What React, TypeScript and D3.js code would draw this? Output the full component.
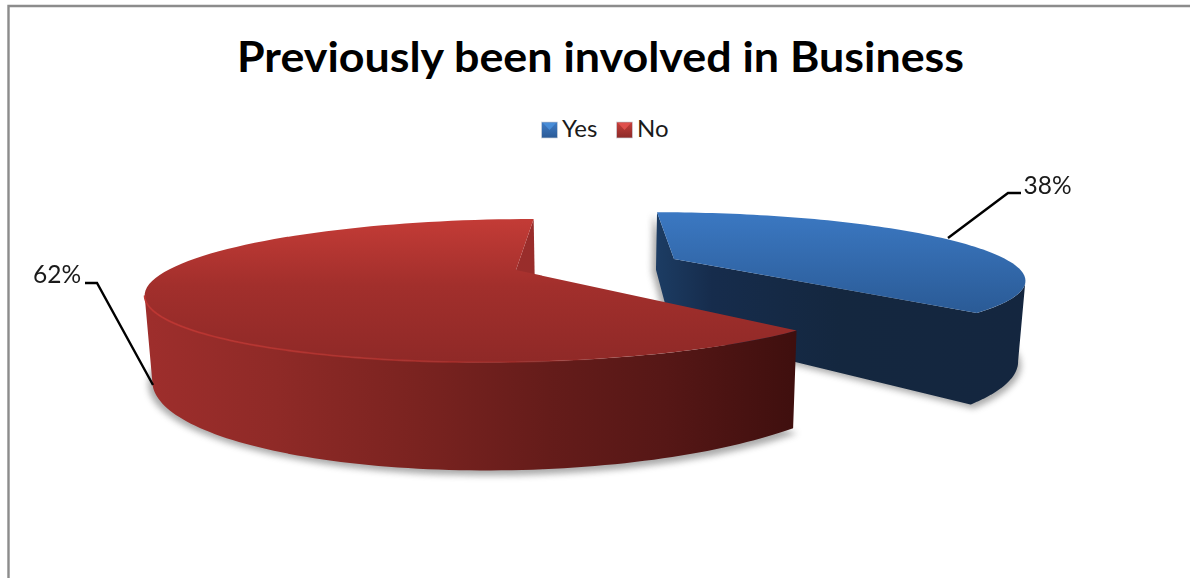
import React from "react";
import * as d3 from "d3";

// Slice values and labels
const categories = ["Yes", "No"];
const shares = [38, 62];
const shareLabels = ["38%", "62%"];
const titleText = "Previously been involved in Business";

const WIDTH = 1190;
const HEIGHT = 578;
const FONT = "Lato, 'Open Sans', sans-serif";

// Perspective camera for the tilted pie: ground units map to screen pixels
const VANISH_X = 595;
const VANISH_Y = 42;
const DEPTH_SCALE = 228;
const DEPTH_K = 0.288;
const WIDTH_SCALE = 348;
const DROP = 0.338; // thickness of the disc, relative to distance from the horizon
const NARROW = 0.983; // the lower rim pulls slightly in towards the middle

type Pt = [number, number];

function project(gx: number, gy: number, down: boolean): Pt {
  const w = 1 - DEPTH_K * gy;
  const x = (WIDTH_SCALE * gx) / w;
  const y = DEPTH_SCALE / w;
  return down
    ? [VANISH_X + x * NARROW, VANISH_Y + y * (1 + DROP)]
    : [VANISH_X + x, VANISH_Y + y];
}

// Ground position of each exploded slice's apex
const apexX = [0.2387, -0.227];
const apexY = [-0.178, 0];

const slices = d3
  .pie<number>()
  .sort(null)
  .value((d) => d)(shares);

const rimPoint = (i: number, angle: number, down: boolean): Pt =>
  project(apexX[i] + Math.sin(angle), apexY[i] - Math.cos(angle), down);
const apexPoint = (i: number, down: boolean): Pt => project(apexX[i], apexY[i], down);

function arcPoints(i: number, from: number, to: number, down: boolean): Pt[] {
  const steps = 90;
  return d3.range(steps + 1).map((k) => rimPoint(i, from + ((to - from) * k) / steps, down));
}

const polyline = d3.line<Pt>();
const closed = (pts: Pt[]) => (polyline(pts) as string) + "Z";

// Angle along a slice's rim where it reaches its widest point on screen
function silhouetteAngle(i: number, sign: number): number {
  const { startAngle, endAngle } = slices[i];
  const angles = d3.range(0, 361).map((k) => startAngle + ((endAngle - startAngle) * k) / 360);
  return d3.greatest(angles, (a) => sign * rimPoint(i, a, false)[0]) as number;
}

const topFace = (i: number) =>
  closed([apexPoint(i, false), ...arcPoints(i, slices[i].startAngle, slices[i].endAngle, false)]);
const bottomFace = (i: number) =>
  closed([apexPoint(i, true), ...arcPoints(i, slices[i].startAngle, slices[i].endAngle, true)]);
const radialWall = (i: number, angle: number) =>
  closed([apexPoint(i, false), rimPoint(i, angle, false), rimPoint(i, angle, true), apexPoint(i, true)]);
const curvedWall = (i: number, from: number, to: number) =>
  closed([...arcPoints(i, from, to, false), ...arcPoints(i, to, from, true)]);

const blueWidest = silhouetteAngle(0, 1);
const redWidest = silhouetteAngle(1, -1);

// Front rim highlight along the No slice
const frontRim = polyline(arcPoints(1, slices[1].startAngle + 0.15, redWidest, false)) as string;

function Key({ x, y, id, label, glow }: { x: number; y: number; id: string; label: string; glow: string }) {
  return (
    <g>
      <rect x={x} y={y} width={16} height={16} fill={`url(#${id}Key)`} stroke="#cfd5dc" strokeWidth={0.7} />
      <path d={`M${x + 1.5} ${y + 1}H${x + 14.5}L${x + 8} ${y + 8}Z`} fill={glow} opacity={0.85} />
      <text x={x + 20.5} y={y + 15} fontSize={24} fontFamily={FONT} fill="#1a1a1a">
        {label}
      </text>
    </g>
  );
}

export default function App() {
  const blueEnd = slices[0].endAngle;
  const redStart = slices[1].startAngle;
  const redEnd = slices[1].endAngle;
  return (
    <svg
      width={WIDTH}
      height={HEIGHT}
      viewBox={`0 0 ${WIDTH} ${HEIGHT}`}
      style={{ position: "fixed", left: 0, top: 0, background: "#fff" }}
    >
      <defs>
        <linearGradient id="blueTop" gradientUnits="userSpaceOnUse" x1={0} x2={0} y1={213} y2={315}>
          <stop offset="0" stopColor="#3b78c2" />
          <stop offset="1" stopColor="#2a5a95" />
        </linearGradient>
        <linearGradient id="redTop" gradientUnits="userSpaceOnUse" x1={0} x2={0} y1={221} y2={363}>
          <stop offset="0" stopColor="#c23b36" />
          <stop offset="0.45" stopColor="#a22f2c" />
          <stop offset="1" stopColor="#8f2927" />
        </linearGradient>
        <linearGradient id="redSide" gradientUnits="userSpaceOnUse" x1={145} x2={795} y1={0} y2={0}>
          <stop offset="0" stopColor="#9e2e2c" />
          <stop offset="0.2" stopColor="#8f2a27" />
          <stop offset="0.42" stopColor="#7a2320" />
          <stop offset="0.62" stopColor="#651c1a" />
          <stop offset="0.8" stopColor="#561716" />
          <stop offset="1" stopColor="#3f0f0e" />
        </linearGradient>
        <linearGradient id="blueSide" gradientUnits="userSpaceOnUse" x1={657} x2={1024} y1={0} y2={0}>
          <stop offset="0" stopColor="#1c3c63" />
          <stop offset="0.15" stopColor="#162c4c" />
          <stop offset="0.5" stopColor="#14273f" />
          <stop offset="1" stopColor="#14263f" />
        </linearGradient>
        <linearGradient id="rimGlow" gradientUnits="userSpaceOnUse" x1={145} x2={640} y1={0} y2={0}>
          <stop offset="0" stopColor="#bd3531" stopOpacity={0.95} />
          <stop offset="0.6" stopColor="#b2312d" stopOpacity={0.7} />
          <stop offset="1" stopColor="#a52e2a" stopOpacity={0} />
        </linearGradient>
        <linearGradient id="blueKey" x1="0" x2="0" y1="0" y2="1">
          <stop offset="0" stopColor="#3f7cc6" />
          <stop offset="1" stopColor="#2a5a96" />
        </linearGradient>
        <linearGradient id="redKey" x1="0" x2="0" y1="0" y2="1">
          <stop offset="0" stopColor="#c63f3b" />
          <stop offset="1" stopColor="#8c2a28" />
        </linearGradient>
        <filter id="soft" x="-10%" y="-20%" width="120%" height="140%">
          <feGaussianBlur stdDeviation="3" />
        </filter>
      </defs>

      {/* Chart frame: only the top and left edges fall inside the canvas */}
      <path d={`M${WIDTH} 6H8.5V${HEIGHT}`} fill="none" stroke="#8c8c8c" strokeWidth={2.4} />

      <text
        x={237}
        y={72}
        textLength={727}
        lengthAdjust="spacingAndGlyphs"
        fontFamily={FONT}
        fontWeight={700}
        fontSize={42.5}
        fill="#000"
      >
        {titleText}
      </text>

      <Key x={541.5} y={122} id="blue" label={categories[0]} glow="#4a90dc" />
      <Key x={616.5} y={122} id="red" label={categories[1]} glow="#e55350" />

      {/* Yes slice */}
      <g filter="url(#soft)" opacity={0.55}>
        <path d={bottomFace(0)} transform="translate(3,4)" fill="#666" />
        <path d={radialWall(0, slices[0].startAngle)} transform="translate(-4,2)" fill="#666" />
      </g>
      <path
        d={[
          radialWall(0, slices[0].startAngle),
          radialWall(0, blueEnd),
          curvedWall(0, blueWidest, blueEnd),
        ].join("")}
        fill="url(#blueSide)"
      />
      <path d={topFace(0)} fill="url(#blueTop)" />

      {/* No slice */}
      <g filter="url(#soft)" opacity={0.55}>
        <path d={bottomFace(1)} transform="translate(4,5)" fill="#666" />
        <path d={bottomFace(1)} transform="translate(-4,3)" fill="#666" />
      </g>
      <path d={radialWall(1, redEnd)} fill="#992d2b" />
      <path d={curvedWall(1, redStart, redWidest)} fill="url(#redSide)" />
      <path d={topFace(1)} fill="url(#redTop)" />
      <path d={frontRim} fill="none" stroke="url(#rimGlow)" strokeWidth={1.8} />

      {/* Leader lines and share labels */}
      <path d="M948 238L1008 193H1021" fill="none" stroke="#000" strokeWidth={2.4} />
      <path d="M85 283H97L153 385" fill="none" stroke="#000" strokeWidth={2.4} />
      <text x={1023.5} y={194} fontSize={24.5} fontFamily={FONT} fill="#1a1a1a">
        {shareLabels[0]}
      </text>
      <text x={33} y={283} fontSize={24.5} fontFamily={FONT} fill="#1a1a1a">
        {shareLabels[1]}
      </text>
    </svg>
  );
}
